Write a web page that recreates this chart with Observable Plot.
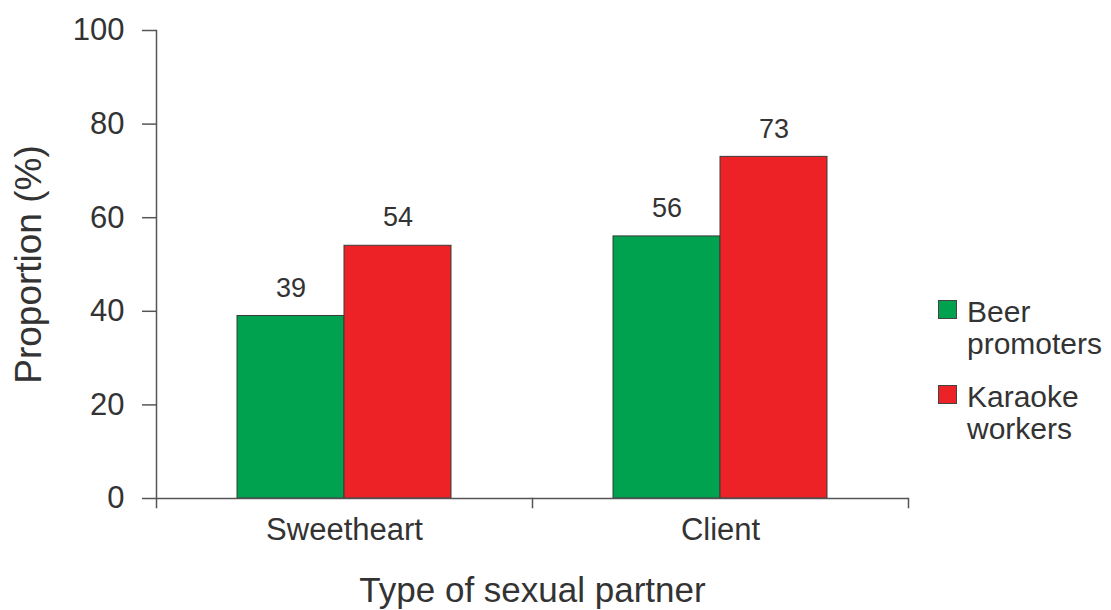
<!DOCTYPE html>
<html><head>
<meta charset="utf-8">
<script src="https://cdn.jsdelivr.net/npm/d3@7"></script>
<script src="https://cdn.jsdelivr.net/npm/@observablehq/plot@0.6"></script>
<style>
body{margin:0;background:#fff;font-family:"Liberation Sans",Arial,sans-serif;}
#wrap{position:relative;width:1111px;height:610px;overflow:hidden;}
#legend{position:absolute;left:938px;top:296px;color:#333;font-size:30px;line-height:32px;}
.item{display:flex;align-items:flex-start;margin-bottom:21px;}
.sw{width:19px;height:19px;box-sizing:border-box;border:1px solid #444;margin-top:4px;margin-right:10px;flex:none;}
</style></head><body>
<div id="wrap"></div>
<script>
const categories = ["Sweetheart", "Client"];
const series = ["Beer promoters", "Karaoke workers"];
const legendLines = [["Beer", "promoters"], ["Karaoke", "workers"]];
const beerValues = [39, 56];
const karaokeValues = [54, 73];
const yTicks = [0, 20, 40, 60, 80, 100];
const colors = ["#00a14f", "#ec2227"];

const data = categories.flatMap((c, i) => [
  {category: c, series: series[0], value: beerValues[i]},
  {category: c, series: series[1], value: karaokeValues[i]}
]);

const ink = "#333";
const axisInk = "#555";

const chart = Plot.plot({
  width: 1111, height: 610,
  marginLeft: 155, marginRight: 203, marginTop: 30, marginBottom: 112,
  style: {fontFamily: "Liberation Sans, Arial, sans-serif", background: "#fff", color: ink},
  fx: {domain: categories, padding: 0},
  x: {domain: series, paddingInner: 0, paddingOuter: 0.75, axis: null},
  y: {domain: [0, 100]},
  color: {domain: series, range: colors},
  marks: [
    Plot.barY(data, {fx: "category", x: "series", y: "value", fill: "series", stroke: "#3a3a3a", strokeWidth: 1}),
    Plot.text(data, {fx: "category", x: "series", y: "value", text: d => String(d.value), dy: -28, fontSize: 27, fill: ink}),
    Plot.ruleY([0], {stroke: axisInk, strokeWidth: 1.5}),
    Plot.frame({anchor: "left", facetAnchor: "left", insetBottom: -9, stroke: axisInk, strokeWidth: 1.5}),
    Plot.frame({anchor: "right", insetTop: 468, insetBottom: -9, stroke: axisInk, strokeWidth: 1.5}),
    Plot.axisY({ticks: yTicks, tickSize: 14, tickPadding: 18, fontSize: 31, label: null, stroke: axisInk, strokeWidth: 1.5, fill: ink}),
    Plot.axisY({ticks: yTicks, tickSize: 0, tickFormat: () => "", fontSize: 37, label: "Proportion (%)", labelArrow: "none", labelAnchor: "center", labelOffset: 142, fill: ink}),
    Plot.axisFx({anchor: "bottom", tickSize: 0, tickPadding: 19, fontSize: 31, label: null, fill: ink}),
    Plot.axisFx({anchor: "bottom", tickSize: 0, tickFormat: () => "", fontSize: 35, label: "Type of sexual partner", labelArrow: "none", labelAnchor: "center", labelOffset: 103, fill: ink})
  ]
});

const wrap = document.getElementById("wrap");
wrap.appendChild(chart);

const legend = document.createElement("div");
legend.id = "legend";
series.forEach((s, i) => {
  const item = document.createElement("div");
  item.className = "item";
  const sw = document.createElement("div");
  sw.className = "sw";
  sw.style.background = colors[i];
  const label = document.createElement("div");
  label.innerHTML = legendLines[i].join("<br>");
  item.appendChild(sw);
  item.appendChild(label);
  legend.appendChild(item);
});
wrap.appendChild(legend);
</script>
</body></html>
